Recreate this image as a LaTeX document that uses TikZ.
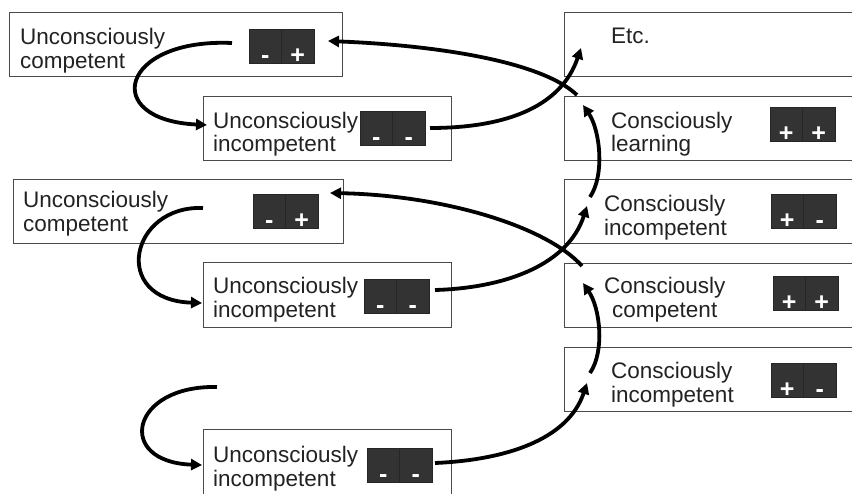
\documentclass[tikz,border=0pt]{standalone}
\usepackage{fontspec}
\setmainfont{Liberation Sans}
\usetikzlibrary{arrows.meta}
\definecolor{sqfill}{HTML}{333333}
\definecolor{boxline}{HTML}{4A4A4A}
\definecolor{txt}{HTML}{222222}
\tikzset{
 box/.style={draw=boxline, line width=1pt, inner sep=0pt, outer sep=0pt, anchor=north west},
 lbl/.style={font=\fontsize{22.5}{24}\selectfont, text=txt, inner sep=0pt, anchor=base west},
 sq/.style={fill=sqfill, draw=black!85, line width=0.6pt, minimum width=32.5pt, minimum height=34pt, inner sep=0pt, outer sep=0pt, anchor=north west},
 sgn/.style={font=\fontsize{25}{25}\bfseries\selectfont, text=white, inner sep=0pt, anchor=base},
 flow/.style={line width=3.8pt, black, -{Triangle[length=11pt,width=11pt]}},
}
\newcommand\sqpair[5]{%
 \node[sq] (#1l) at (#2,#3) {};
 \node[sq] (#1r) at (#1l.north east) {};
 \node[sgn] (#1ls) at (#1l.south) {#4};
 \node[sgn] (#1rs) at (#1r.south) {#5};}
\begin{document}
\begin{tikzpicture}[x=1pt,y=-1pt]
\useasboundingbox (0,0) rectangle (852,493);
\clip (0,0) rectangle (852,493);
% boxes
\node[box, minimum width=333pt, minimum height=64pt] (b1) at (9,12) {};
\node[box, minimum width=248pt, minimum height=64pt] (b2) at (203,96) {};
\node[box, minimum width=300pt, minimum height=64pt] (b3) at (564,12) {};
\node[box, minimum width=300pt, minimum height=64pt] (b4) at (564,96) {};
\node[box, minimum width=330pt, minimum height=64pt] (b5) at (13,179) {};
\node[box, minimum width=248pt, minimum height=65pt] (b6) at (203,262) {};
\node[box, minimum width=300pt, minimum height=64pt] (b7) at (564,179) {};
\node[box, minimum width=300pt, minimum height=64pt] (b8) at (564,263) {};
\node[box, minimum width=300pt, minimum height=64pt] (b9) at (564,347) {};
\node[box, minimum width=248pt, minimum height=80pt] (b10) at (203,429) {};
% labels
\node[lbl] (t1a) at (20,44) {Unconsciously};
\node[lbl] (t1b) at (20,68) {competent};
\node[lbl] (t2a) at (213,128) {Unconsciously};
\node[lbl] (t2b) at (213,151) {incompetent};
\node[lbl] (t3a) at (611,43) {Etc.};
\node[lbl] (t4a) at (611,128) {Consciously};
\node[lbl] (t4b) at (611,151) {learning};
\node[lbl] (t5a) at (23,207) {Unconsciously};
\node[lbl] (t5b) at (23,231) {competent};
\node[lbl] (t6a) at (213,293) {Unconsciously};
\node[lbl] (t6b) at (213,317) {incompetent};
\node[lbl] (t7a) at (604,211) {Consciously};
\node[lbl] (t7b) at (604,235) {incompetent};
\node[lbl] (t8a) at (604,293) {Consciously};
\node[lbl] (t8b) at (612,317) {competent};
\node[lbl] (t9a) at (611,378) {Consciously};
\node[lbl] (t9b) at (611,402) {incompetent};
\node[lbl] (t10a) at (213,462) {Unconsciously};
\node[lbl] (t10b) at (213,486) {incompetent};
% sign squares
\sqpair{s1}{249}{29}{-}{+}
\sqpair{s2}{360}{111}{-}{-}
\sqpair{s3}{770}{107}{+}{+}
\sqpair{s4}{253}{194}{-}{+}
\sqpair{s5}{364}{279}{-}{-}
\sqpair{s6}{771}{194}{+}{-}
\sqpair{s7}{773}{276}{+}{+}
\sqpair{s8}{771}{363}{+}{-}
\sqpair{s9}{367}{448}{-}{-}
% connector ends
\coordinate (a1s) at (232,43);  \coordinate (a1e) at (207,125);
\coordinate (a2s) at (430,128); \coordinate (a2e) at (581,48);
\coordinate (a3s) at (577,95);  \coordinate (a3e) at (328,41);
\coordinate (a4s) at (590,197); \coordinate (a4e) at (583,105);
\coordinate (a5s) at (435,290); \coordinate (a5e) at (587,206);
\coordinate (a6s) at (582,266); \coordinate (a6e) at (330,193);
\coordinate (a7s) at (203,208); \coordinate (a7e) at (202,303);
\coordinate (a8s) at (590,373); \coordinate (a8e) at (583,283);
\coordinate (a9s) at (435,463); \coordinate (a9e) at (587,383);
\coordinate (a10s) at (217,387); \coordinate (a10e) at (202,465);
% connectors
\draw[flow] (a1s) .. controls (120,38) and (100,120) .. (a1e);
\draw[flow] (a7s) .. controls (130,205) and (110,300) .. (a7e);
\draw[flow] (a10s) .. controls (130,385) and (115,462) .. (a10e);
\draw[flow] (a2s) .. controls (500,128) and (560,110) .. (a2e);
\draw[flow] (a5s) .. controls (505,288) and (568,265) .. (a5e);
\draw[flow] (a9s) .. controls (505,460) and (568,440) .. (a9e);
\draw[flow] (a3s) .. controls (540,60) and (430,45) .. (a3e);
\draw[flow] (a6s) .. controls (545,225) and (440,195) .. (a6e);
\draw[flow] (a4s) .. controls (605,175) and (600,130) .. (a4e);
\draw[flow] (a8s) .. controls (605,351) and (600,308) .. (a8e);
\end{tikzpicture}
\end{document}
